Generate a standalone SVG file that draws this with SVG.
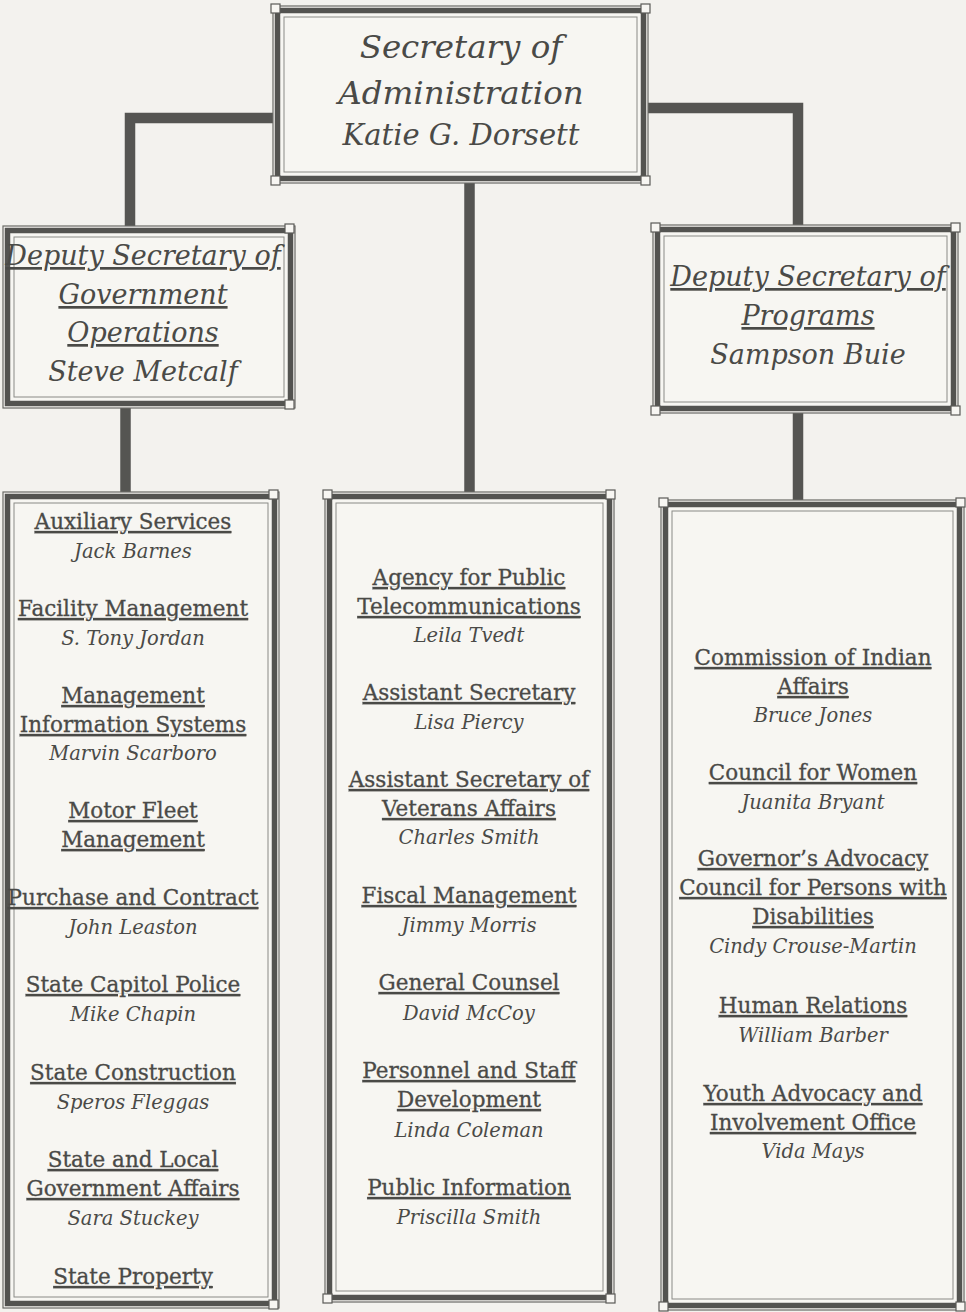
<svg xmlns="http://www.w3.org/2000/svg" width="966" height="1312" viewBox="0 0 966 1312">
<defs>
<style>
.bg{fill:#f3f2ee}
.frame-outer{fill:#f7f6f2;stroke:#6a6a66;stroke-width:1.2}
.frame-thick{fill:none;stroke:#535350;stroke-width:5.5}
.frame-inner{fill:none;stroke:#8a8a86;stroke-width:1}
.corner{fill:#f7f6f2;stroke:#5a5a57;stroke-width:1.2}
.conn{fill:none;stroke:#555552;stroke-width:10.5;stroke-linecap:butt;stroke-linejoin:miter}
.t{font-family:"DejaVu Serif","Liberation Serif",serif;fill:#4a4a47;text-anchor:middle}
.head{font-style:italic;font-size:27px}
.top{font-style:italic;font-size:32.5px}
.top2{font-style:italic;font-size:29px}
.unit{font-size:21.5px;text-decoration:underline;stroke:#4a4a47;stroke-width:0.3}
.name{font-style:italic;font-size:19.5px}
.u{text-decoration:underline}
</style>
</defs>
<rect class="bg" x="0" y="0" width="966" height="1312"/>

<g id="connectors">
<path class="conn" d="M273,118 H130 V226"/>
<path class="conn" d="M648,108 H798 V225"/>
<path class="conn" d="M469.5,183 V492"/>
<path class="conn" d="M125.5,408 V492"/>
<path class="conn" d="M798,413 V500"/>
</g>

<g id="secretary">
<rect class="frame-outer" x="273" y="6" width="375" height="177"/>
<rect class="frame-thick" x="277.5" y="10.5" width="366" height="168"/>
<rect class="frame-inner" x="284" y="17" width="353" height="155"/>
<rect class="corner" x="271" y="4" width="9" height="9"/>
<rect class="corner" x="641" y="4" width="9" height="9"/>
<rect class="corner" x="271" y="176" width="9" height="9"/>
<rect class="corner" x="641" y="176" width="9" height="9"/>
<text class="t top" x="461" y="58">Secretary of</text>
<text class="t top" x="461" y="104">Administration</text>
<text class="t top2" x="461" y="145">Katie G. Dorsett</text>
</g>

<g id="deputy-gov-ops">
<rect class="frame-outer" x="3" y="226" width="292" height="182"/>
<rect class="frame-thick" x="7.5" y="230.5" width="283" height="173"/>
<rect class="frame-inner" x="14" y="237" width="270" height="160"/>
<rect class="corner" x="285" y="224" width="9" height="9"/>
<rect class="corner" x="285" y="400" width="9" height="9"/>
<text class="t head u" x="143" y="265">Deputy Secretary of</text>
<text class="t head u" x="143" y="304">Government</text>
<text class="t head u" x="143" y="342">Operations</text>
<text class="t head" x="143" y="381">Steve Metcalf</text>
</g>

<g id="deputy-programs">
<rect class="frame-outer" x="653" y="225" width="305" height="188"/>
<rect class="frame-thick" x="657.5" y="229.5" width="296" height="179"/>
<rect class="frame-inner" x="664" y="236" width="283" height="166"/>
<rect class="corner" x="651" y="223" width="9" height="9"/>
<rect class="corner" x="951" y="223" width="9" height="9"/>
<rect class="corner" x="651" y="406" width="9" height="9"/>
<rect class="corner" x="951" y="406" width="9" height="9"/>
<text class="t head u" x="808" y="286">Deputy Secretary of</text>
<text class="t head u" x="808" y="325">Programs</text>
<text class="t head" x="808" y="364">Sampson Buie</text>
</g>

<g id="gov-ops-units">
<rect class="frame-outer" x="3" y="492" width="276" height="816"/>
<rect class="frame-thick" x="7.5" y="496.5" width="267" height="807"/>
<rect class="frame-inner" x="14" y="503" width="254" height="794"/>
<rect class="corner" x="269" y="490" width="9" height="9"/>
<rect class="corner" x="269" y="1300" width="9" height="9"/>
<text class="t unit" x="133" y="529">Auxiliary Services </text>
<text class="t name" x="133" y="558">Jack Barnes</text>
<text class="t unit" x="133" y="616">Facility Management</text>
<text class="t name" x="133" y="645">S. Tony Jordan</text>
<text class="t unit" x="133" y="703">Management</text>
<text class="t unit" x="133" y="732">Information Systems</text>
<text class="t name" x="133" y="760">Marvin Scarboro</text>
<text class="t unit" x="133" y="818">Motor Fleet</text>
<text class="t unit" x="133" y="847">Management</text>
<text class="t unit" x="133" y="905">Purchase and Contract</text>
<text class="t name" x="133" y="934">John Leaston</text>
<text class="t unit" x="133" y="992">State Capitol Police</text>
<text class="t name" x="133" y="1021">Mike Chapin</text>
<text class="t unit" x="133" y="1080">State Construction</text>
<text class="t name" x="133" y="1109">Speros Fleggas</text>
<text class="t unit" x="133" y="1167">State and Local</text>
<text class="t unit" x="133" y="1196">Government Affairs</text>
<text class="t name" x="133" y="1225">Sara Stuckey</text>
<text class="t unit" x="133" y="1284">State Property</text>
</g>

<g id="secretary-units">
<rect class="frame-outer" x="325" y="492" width="289" height="810"/>
<rect class="frame-thick" x="329.5" y="496.5" width="280" height="801"/>
<rect class="frame-inner" x="336" y="503" width="267" height="788"/>
<rect class="corner" x="323" y="490" width="9" height="9"/>
<rect class="corner" x="606" y="490" width="9" height="9"/>
<rect class="corner" x="323" y="1294" width="9" height="9"/>
<rect class="corner" x="606" y="1294" width="9" height="9"/>
<text class="t unit" x="469" y="585">Agency for Public</text>
<text class="t unit" x="469" y="614">Telecommunications</text>
<text class="t name" x="469" y="642">Leila Tvedt</text>
<text class="t unit" x="469" y="700">Assistant Secretary</text>
<text class="t name" x="469" y="729">Lisa Piercy</text>
<text class="t unit" x="469" y="787">Assistant Secretary of</text>
<text class="t unit" x="469" y="816">Veterans Affairs</text>
<text class="t name" x="469" y="844">Charles Smith</text>
<text class="t unit" x="469" y="903">Fiscal Management</text>
<text class="t name" x="469" y="932">Jimmy Morris</text>
<text class="t unit" x="469" y="990">General Counsel</text>
<text class="t name" x="469" y="1020">David McCoy</text>
<text class="t unit" x="469" y="1078">Personnel and Staff</text>
<text class="t unit" x="469" y="1107">Development</text>
<text class="t name" x="469" y="1137">Linda Coleman</text>
<text class="t unit" x="469" y="1195">Public Information</text>
<text class="t name" x="469" y="1224">Priscilla Smith</text>
</g>

<g id="programs-units">
<rect class="frame-outer" x="661" y="500" width="303" height="810"/>
<rect class="frame-thick" x="665.5" y="504.5" width="294" height="801"/>
<rect class="frame-inner" x="672" y="511" width="281" height="788"/>
<rect class="corner" x="659" y="498" width="9" height="9"/>
<rect class="corner" x="956" y="498" width="9" height="9"/>
<rect class="corner" x="659" y="1302" width="9" height="9"/>
<rect class="corner" x="956" y="1302" width="9" height="9"/>
<text class="t unit" x="813" y="665">Commission of Indian</text>
<text class="t unit" x="813" y="694">Affairs</text>
<text class="t name" x="813" y="722">Bruce Jones</text>
<text class="t unit" x="813" y="780">Council for Women</text>
<text class="t name" x="813" y="809">Juanita Bryant</text>
<text class="t unit" x="813" y="866">Governor’s Advocacy</text>
<text class="t unit" x="813" y="895">Council for Persons with</text>
<text class="t unit" x="813" y="924">Disabilities</text>
<text class="t name" x="813" y="953">Cindy Crouse-Martin</text>
<text class="t unit" x="813" y="1013">Human Relations</text>
<text class="t name" x="813" y="1042">William Barber</text>
<text class="t unit" x="813" y="1101">Youth Advocacy and</text>
<text class="t unit" x="813" y="1130">Involvement Office</text>
<text class="t name" x="813" y="1158">Vida Mays</text>
</g>
</svg>
